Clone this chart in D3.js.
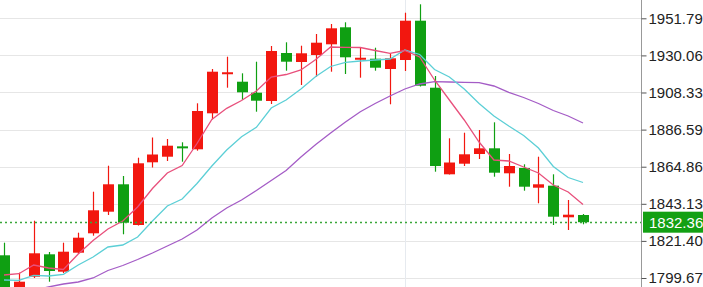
<!DOCTYPE html>
<html lang="en">

<head>
  <meta charset="utf-8">
  <title>Candles</title>
  <style>
    body {
      margin: 0;
      background: #fff;
    }

    #chart text {
      font: 15px "Liberation Sans", Arial, sans-serif;
      fill: #222;
    }
  </style>
</head>

<body>
  <div id="chart"></div>
</body>
<script src="https://d3js.org/d3.v7.min.js"></script>

<script>
  // candle values, oldest first
  var opens = [1812.97, 1789.71, 1800.43, 1813.55, 1803.36, 1814.49, 1825.85, 1838.51, 1854.56, 1830.72,
    1867.44, 1870.72, 1876.58, 1875.06, 1896.14, 1919.16, 1914.65, 1908.21, 1903.35, 1931.46,
    1926.19, 1930.29, 1936.56, 1946.52, 1927.66, 1928.13, 1922.09, 1927.36, 1950.38, 1911.14,
    1860.41, 1866.62, 1872.30, 1875.64, 1861.00, 1864.10, 1852.56, 1853.74, 1835.23, 1836.57];
  var closes = [1786.8, 1797.50, 1814.14, 1803.77, 1815.08, 1823.28, 1839.33, 1854.56, 1832.06, 1866.86,
    1872.01, 1877.17, 1875.82, 1897.49, 1920.51, 1920.04, 1908.44, 1903.52, 1932.64, 1926.37,
    1931.29, 1937.50, 1945.93, 1928.95, 1928.54, 1922.85, 1928.36, 1950.38, 1912.31, 1865.27,
    1867.32, 1872.13, 1875.64, 1861.35, 1865.27, 1853.15, 1854.56, 1835.58, 1836.75, 1832.36];
  var highs = [1820.35, 1802.78, 1833.23, 1814.90, 1820.35, 1826.21, 1850.22, 1865.45, 1859.42, 1870.14,
    1881.97, 1881.09, 1879.16, 1902.00, 1922.09, 1929.30, 1919.57, 1926.37, 1935.56, 1937.73,
    1935.74, 1942.59, 1948.45, 1949.45, 1934.57, 1934.57, 1931.29, 1955.07, 1959.99, 1917.99,
    1881.50, 1884.78, 1886.36, 1890.87, 1872.30, 1866.27, 1870.72, 1860.41, 1845.36, 1837.16];
  var lows = [1783.9, 1786.8, 1799.67, 1797.50, 1802.60, 1813.73, 1824.45, 1836.57, 1825.27, 1830.40,
    1864.40, 1868.20, 1867.79, 1874.24, 1892.63, 1911.14, 1903.93, 1897.08, 1901.59, 1921.10,
    1912.72, 1917.58, 1920.51, 1919.16, 1917.00, 1921.10, 1901.42, 1920.92, 1911.84, 1861.94,
    1860.30, 1865.27, 1869.37, 1859.01, 1853.15, 1850.81, 1843.43, 1830.72, 1827.79, 1831.12];

  // moving averages
  var maShort = [1801.43, 1802.19, 1807.29, 1805.53, 1804.65, 1813.73, 1821.64, 1828.37, 1833.06, 1841.26,
    1852.10, 1861.18, 1865.57, 1878.45, 1892.51, 1899.07, 1903.64, 1909.21, 1917.41, 1918.87,
    1921.51, 1927.66, 1934.98, 1934.80, 1934.69, 1932.93, 1931.29, 1932.93, 1929.12, 1915.65,
    1903.93, 1892.22, 1879.33, 1868.79, 1868.20, 1864.69, 1861.18, 1854.15, 1850.05, 1842.72];
  var maMid = [1798.50, 1798.32, 1801.25, 1800.84, 1801.84, 1807.29, 1811.97, 1817.83, 1819.00, 1823.69,
    1833.06, 1841.85, 1845.95, 1855.02, 1865.28, 1874.65, 1882.44, 1887.94, 1899.25, 1903.93,
    1910.38, 1917.70, 1923.56, 1926.02, 1926.78, 1927.36, 1927.95, 1933.22, 1930.59, 1921.80,
    1917.41, 1910.38, 1901.88, 1894.56, 1888.71, 1883.14, 1875.82, 1864.98, 1858.54, 1855.61];
  var maLong = [1787.96, 1790.30, 1792.64, 1794.40, 1796.16, 1797.33, 1799.67, 1804.06, 1806.99, 1810.51,
    1814.32, 1818.42, 1822.52, 1827.79, 1834.82, 1840.67, 1845.36, 1850.92, 1856.78, 1862.64,
    1870.55, 1877.87, 1884.61, 1891.05, 1897.08, 1901.88, 1906.28, 1910.38, 1913.31, 1914.65,
    1914.48, 1914.30, 1914.07, 1912.14, 1908.45, 1905.40, 1901.88, 1897.78, 1894.56, 1890.46];

  var tickValues = [1799.67, 1821.40, 1843.13, 1864.86, 1886.59, 1908.33, 1930.06, 1951.79];
  var lastPrice = 1832.36;
  var dividerIndex = 27;

  var width = 703,
    height = 287,
    plotRight = 641;

  var up = "#f2170f",
    down = "#0f9f12";

  var svg = d3.select("#chart")
    .append("svg")
    .attr("width", width)
    .attr("height", height);

  var x = d3.scaleLinear()
    .domain([0, opens.length - 1])
    .range([4, 583]);

  var y = d3.scaleLinear()
    .domain([1799.67, 1951.79])
    .range([278, 18.3]);

  // grid
  svg.append("g")
    .selectAll("line")
    .data(tickValues)
    .enter()
    .append("line")
    .attr("x1", 0)
    .attr("x2", plotRight)
    .attr("y1", function (d) { return Math.round(y(d)) + 0.5; })
    .attr("y2", function (d) { return Math.round(y(d)) + 0.5; })
    .attr("stroke", "#e6e6e6");

  svg.append("line")
    .attr("x1", Math.round(x(dividerIndex)) + 0.5)
    .attr("x2", Math.round(x(dividerIndex)) + 0.5)
    .attr("y1", 0)
    .attr("y2", height)
    .attr("stroke", "#e6eaef");

  var plot = svg.append("g");

  // wicks
  plot.selectAll(".wick")
    .data(opens)
    .enter()
    .append("line")
    .attr("x1", function (d, i) { return Math.round(x(i)) + 0.5; })
    .attr("x2", function (d, i) { return Math.round(x(i)) + 0.5; })
    .attr("y1", function (d, i) { return y(highs[i]); })
    .attr("y2", function (d, i) { return y(lows[i]); })
    .attr("stroke", function (d, i) { return closes[i] >= d ? up : down; })
    .attr("stroke-width", 1.2);

  // bodies
  plot.selectAll(".body")
    .data(opens)
    .enter()
    .append("rect")
    .attr("x", function (d, i) { return Math.round(x(i)) - 5; })
    .attr("width", 11)
    .attr("y", function (d, i) {
      var t = y(Math.max(d, closes[i])), b = y(Math.min(d, closes[i]));
      return b - t < 2 ? (t + b) / 2 - 1 : t;
    })
    .attr("height", function (d, i) {
      return Math.max(2, Math.abs(y(d) - y(closes[i])));
    })
    .attr("fill", function (d, i) { return closes[i] >= d ? up : down; });

  // moving averages
  var line = d3.line()
    .x(function (d, i) { return x(i); })
    .y(function (d) { return y(d); });

  [[maLong, "#a45cc6"], [maMid, "#5ccfd6"], [maShort, "#e8507c"]].forEach(function (m) {
    plot.append("path")
      .attr("d", line(m[0]))
      .attr("fill", "none")
      .attr("stroke", m[1])
      .attr("stroke-width", 1.3);
  });

  // last price
  svg.append("line")
    .attr("x1", 0)
    .attr("x2", plotRight)
    .attr("y1", Math.round(y(lastPrice)) + 0.5)
    .attr("y2", Math.round(y(lastPrice)) + 0.5)
    .attr("stroke", "#3aa63a")
    .attr("stroke-width", 1.3)
    .attr("stroke-dasharray", "2,3");

  // axis
  var axis = svg.append("g")
    .attr("transform", "translate(" + (plotRight + 0.5) + ",0)")
    .call(d3.axisRight(y)
      .tickValues(tickValues)
      .tickSize(5)
      .tickPadding(2)
      .tickFormat(d3.format(".2f")));
  axis.select(".domain")
    .attr("d", "M0,0V" + height)
    .attr("stroke", "#999");
  axis.selectAll(".tick line").attr("stroke", "#555");
  axis.selectAll("text")
    .attr("fill", "#222")
    .style("font", "15px 'Liberation Sans', Arial, sans-serif");

  svg.append("rect")
    .attr("x", plotRight + 2)
    .attr("y", y(lastPrice) - 10.5)
    .attr("width", width - plotRight - 2)
    .attr("height", 21)
    .attr("fill", "#13a013");

  svg.append("text")
    .attr("x", plotRight + 8)
    .attr("y", y(lastPrice))
    .attr("dy", "0.36em")
    .attr("fill", "#fff")
    .style("font", "15px 'Liberation Sans', Arial, sans-serif")
    .style("fill", "#fff")
    .text(lastPrice.toFixed(2));
</script>

</html>
